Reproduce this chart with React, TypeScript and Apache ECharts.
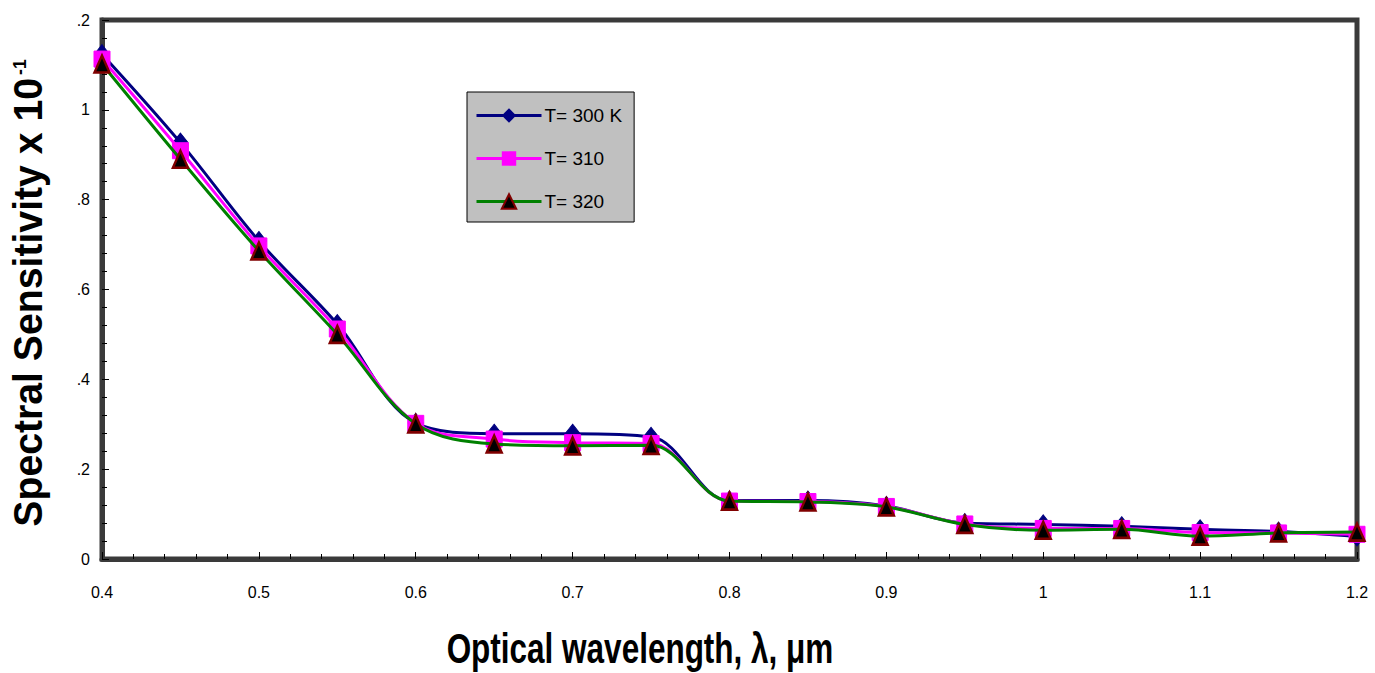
import React, { useEffect, useRef } from "react";
import * as echarts from "echarts";

const wavelengths = [0.4, 0.45, 0.5, 0.55, 0.6, 0.65, 0.7, 0.75, 0.8, 0.85, 0.9, 0.95, 1.0, 1.05, 1.1, 1.15, 1.2];
const t300 = [1.124, 0.927, 0.708, 0.523, 0.303, 0.279, 0.279, 0.272, 0.13, 0.13, 0.118, 0.08, 0.077, 0.073, 0.066, 0.061, 0.05];
const t310 = [1.113, 0.909, 0.697, 0.512, 0.302, 0.267, 0.259, 0.257, 0.129, 0.128, 0.117, 0.078, 0.068, 0.068, 0.059, 0.058, 0.055];
const t320 = [1.102, 0.89, 0.686, 0.5, 0.301, 0.256, 0.252, 0.253, 0.129, 0.127, 0.116, 0.077, 0.064, 0.066, 0.051, 0.058, 0.06];
const seriesNames = ["T= 300 K", "T= 310", "T= 320"];
const yTickLabels: Record<string, string> = { "0": "0", "0.2": ".2", "0.4": ".4", "0.6": ".6", "0.8": ".8", "1": "1", "1.2": ".2" };
const xTitle = "Optical wavelength, λ, μm";
const yTitleMain = "Spectral Sensitivity x 10";
const yTitleExp = "-1";

const FONT = "Liberation Sans, Arial, sans-serif";

export default function App() {
  const ref = useRef<HTMLDivElement>(null);
  useEffect(() => {
    if (!ref.current) return;
    const chart = echarts.init(ref.current, null, { renderer: "svg" });
    const pair = (ys: number[]) => wavelengths.map((x, i) => [x, ys[i]]);
    chart.setOption({
      animation: false,
      backgroundColor: "#ffffff",
      textStyle: { fontFamily: FONT },
      grid: {
        left: 102,
        right: 18,
        top: 20,
        bottom: 114,
        show: true,
        borderColor: "#3a3a3a",
        borderWidth: 5,
        backgroundColor: "transparent",
      },
      graphic: [
        {
          type: "text",
          x: 640,
          y: 648,
          scaleX: 0.75,
          style: {
            text: xTitle,
            fontSize: 42,
            fontWeight: "bold",
            fontFamily: FONT,
            fill: "#000",
            align: "center",
            verticalAlign: "middle",
          },
        },
        {
          type: "text",
          x: 28,
          y: 293,
          rotation: Math.PI / 2,
          scaleX: 0.98,
          style: {
            text: "{a|" + yTitleMain + "}{b|" + yTitleExp + "}",
            align: "center",
            verticalAlign: "middle",
            rich: {
              a: { fontSize: 40, fontWeight: "bold", fontFamily: FONT, fill: "#000", lineHeight: 34 },
              b: { fontSize: 18, fontWeight: "bold", fontFamily: FONT, fill: "#000", lineHeight: 34, verticalAlign: "top", padding: [0, 0, 0, 3] },
            },
          },
        },
      ],
      legend: {
        orient: "vertical",
        left: 467,
        top: 92,
        padding: [14, 12, 11, 8],
        backgroundColor: "#c0c0c0",
        borderColor: "#000000",
        borderWidth: 1,
        itemWidth: 65,
        itemHeight: 18,
        itemGap: 24,
        lineStyle: { width: 3 },
        textStyle: { fontSize: 19, color: "#000", fontFamily: FONT, padding: [0, 0, 0, -2] },
        data: seriesNames,
      },
      xAxis: {
        type: "value",
        min: 0.4,
        max: 1.2,
        interval: 0.1,
        axisLine: { show: true, lineStyle: { color: "#3a3a3a", width: 5 } },
        axisTick: { show: true, inside: true, length: 7, lineStyle: { color: "#000", width: 1 } },
        minorTick: { show: true, splitNumber: 5, length: 5, lineStyle: { color: "#000", width: 1 } },
        splitLine: { show: false },
        axisLabel: {
          margin: 25,
          fontSize: 16,
          color: "#000",
          formatter: (v: number) => String(+v.toFixed(2)),
        },
      },
      yAxis: {
        type: "value",
        min: 0,
        max: 1.2,
        interval: 0.2,
        axisLine: { show: true, lineStyle: { color: "#3a3a3a", width: 5 } },
        axisTick: { show: true, inside: true, length: 7, lineStyle: { color: "#000", width: 1 } },
        minorTick: { show: true, splitNumber: 5, length: 5, lineStyle: { color: "#000", width: 1 } },
        splitLine: { show: false },
        axisLabel: {
          margin: 12,
          fontSize: 16,
          color: "#000",
          formatter: (v: number) => yTickLabels[String(+v.toFixed(2))] ?? String(v),
        },
      },
      series: [
        {
          name: seriesNames[0],
          type: "line",
          data: pair(t300),
          smooth: 0.35,
          symbol: "diamond",
          symbolSize: [15, 19],
          lineStyle: { color: "#000080", width: 3 },
          itemStyle: { color: "#000080", borderColor: "#000080" },
          z: 2,
        },
        {
          name: seriesNames[1],
          type: "line",
          data: pair(t310),
          smooth: 0.35,
          symbol: "rect",
          symbolSize: 16,
          lineStyle: { color: "#ff00ff", width: 3 },
          itemStyle: { color: "#ff00ff", borderColor: "#ff00ff" },
          z: 3,
        },
        {
          name: seriesNames[2],
          type: "line",
          data: pair(t320),
          smooth: 0.35,
          symbol: "triangle",
          symbolSize: [15, 17],
          lineStyle: { color: "#008000", width: 3 },
          itemStyle: { color: "#000000", borderColor: "#800000", borderWidth: 2.5 },
          z: 4,
        },
      ],
    });
    return () => chart.dispose();
  }, []);
  return <div ref={ref} style={{ width: 1375, height: 673, position: "absolute", left: 0, top: 0 }} />;
}
